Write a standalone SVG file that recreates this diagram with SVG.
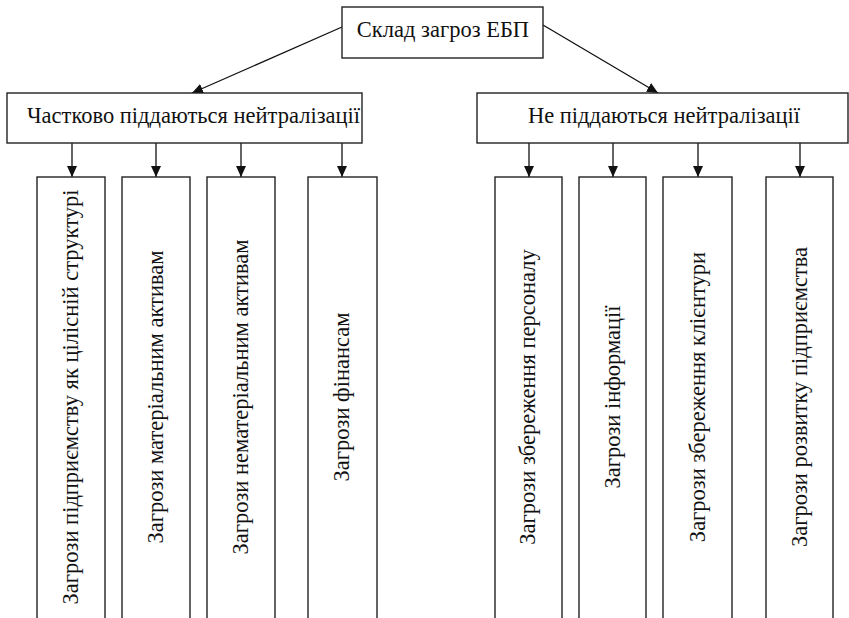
<svg xmlns="http://www.w3.org/2000/svg" width="849" height="618" viewBox="0 0 849 618">
  <style>
    .box { fill: #ffffff; stroke: #222222; stroke-width: 1.4; }
    .lbl { font-family: "Liberation Serif", "Times New Roman", serif; font-size: 22.5px; fill: #111111; }
    .mid { text-anchor: middle; }
    .edge { stroke: #111111; stroke-width: 1.3; fill: none; marker-end: url(#arrow); }
  </style>
  <defs>
    <marker id="arrow" markerUnits="userSpaceOnUse" markerWidth="12" markerHeight="12" refX="11" refY="5" orient="auto">
      <path d="M0,0 L11,5 L0,10 Z" fill="#111111"/>
    </marker>
  </defs>

  <rect x="0" y="0" width="849" height="618" fill="#ffffff"/>

  <!-- connectors -->
  <g id="connectors">
    <line class="edge" x1="342" y1="27" x2="192" y2="93"/>
    <line class="edge" x1="543" y1="25" x2="658" y2="93"/>
    <line class="edge" x1="72" y1="143" x2="72" y2="177"/>
    <line class="edge" x1="156" y1="143" x2="156" y2="177"/>
    <line class="edge" x1="241" y1="143" x2="241" y2="177"/>
    <line class="edge" x1="342" y1="143" x2="342" y2="177"/>
    <line class="edge" x1="529" y1="143" x2="529" y2="177"/>
    <line class="edge" x1="613" y1="143" x2="613" y2="177"/>
    <line class="edge" x1="698" y1="143" x2="698" y2="177"/>
    <line class="edge" x1="800" y1="143" x2="800" y2="177"/>
  </g>

  <!-- root -->
  <g id="root">
    <rect class="box" x="342" y="7" width="201" height="51"/>
    <text class="lbl mid" x="443" y="37">Склад загроз ЕБП</text>
  </g>

  <!-- second level -->
  <g id="partial">
    <rect class="box" x="7" y="93" width="355" height="50"/>
    <text class="lbl" x="27" y="123">Частково піддаються нейтралізації</text>
  </g>
  <g id="none">
    <rect class="box" x="477" y="93" width="371" height="50"/>
    <text class="lbl mid" x="664" y="123">Не піддаються нейтралізації</text>
  </g>

  <!-- leaf nodes (open at the bottom edge) -->
  <g id="t1">
    <rect class="box" x="37" y="177" width="68" height="460"/>
    <text class="lbl mid" transform="translate(78,397) rotate(-90)">Загрози підприємству як цілісній структурі</text>
  </g>
  <g id="t2">
    <rect class="box" x="122" y="177" width="68" height="460"/>
    <text class="lbl mid" transform="translate(163,397) rotate(-90)">Загрози матеріальним активам</text>
  </g>
  <g id="t3">
    <rect class="box" x="207" y="177" width="68" height="460"/>
    <text class="lbl mid" transform="translate(248,397) rotate(-90)">Загрози нематеріальним активам</text>
  </g>
  <g id="t4">
    <rect class="box" x="308" y="177" width="69" height="460"/>
    <text class="lbl mid" transform="translate(349,397) rotate(-90)">Загрози фінансам</text>
  </g>
  <g id="t5">
    <rect class="box" x="495" y="177" width="67" height="460"/>
    <text class="lbl mid" transform="translate(535,397) rotate(-90)">Загрози збереження персоналу</text>
  </g>
  <g id="t6">
    <rect class="box" x="579" y="177" width="67" height="460"/>
    <text class="lbl mid" transform="translate(620,397) rotate(-90)">Загрози інформації</text>
  </g>
  <g id="t7">
    <rect class="box" x="663" y="177" width="69" height="460"/>
    <text class="lbl mid" transform="translate(705,397) rotate(-90)">Загрози збереження клієнтури</text>
  </g>
  <g id="t8">
    <rect class="box" x="766" y="177" width="67" height="460"/>
    <text class="lbl mid" transform="translate(807,397) rotate(-90)">Загрози розвитку підприємства</text>
  </g>
</svg>
